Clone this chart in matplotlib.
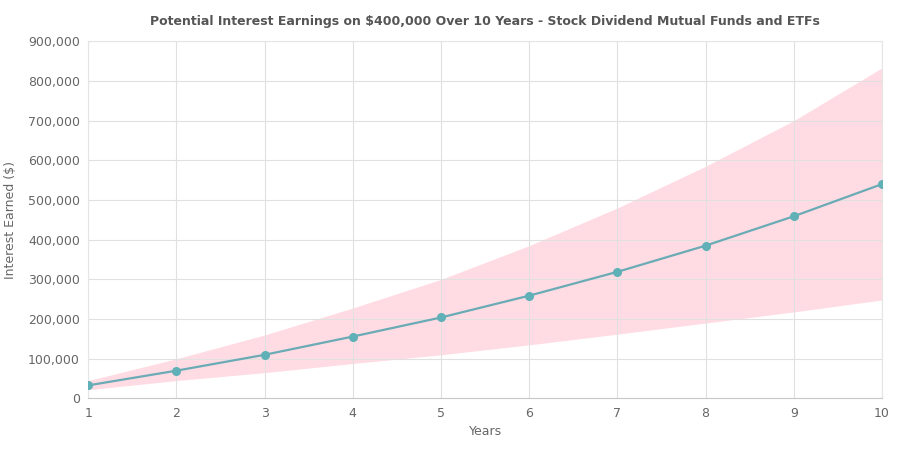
import matplotlib.pyplot as plt
from matplotlib.ticker import FuncFormatter

years = [1, 2, 3, 4, 5, 6, 7, 8, 9, 10]
expected = [33000, 70000, 110000, 156000, 204000, 259000, 319000, 385000, 459000, 540000]
upper = [45000, 100000, 160000, 228000, 300000, 385000, 480000, 585000, 700000, 833000]
lower = [22000, 45000, 65000, 88000, 110000, 135000, 162000, 190000, 218000, 248000]

fig = plt.figure(figsize=(9, 4.58), dpi=100)
ax = fig.add_axes([0.098, 0.13, 0.882, 0.78])

ax.fill_between(years, lower, upper, color="#ff6384", alpha=0.22, linewidth=0, zorder=1)
ax.plot(years, expected, color="#6aabb5", linewidth=1.6, marker="o", markersize=5.5,
        markerfacecolor="#5fb0b7", markeredgecolor="#5fb0b7", zorder=3)

ax.set_xlim(1, 10)
ax.set_ylim(0, 900000)
ax.set_xticks(years)
ax.set_yticks(range(0, 900001, 100000))
ax.yaxis.set_major_formatter(FuncFormatter(lambda v, p: f"{int(v):,}"))
ax.grid(color="#e0e0e0", linewidth=0.8, zorder=0)
for s in ax.spines.values():
    s.set_color("#e5e5e5")
ax.spines["bottom"].set_color("#c8c8c8")
ax.tick_params(colors="#666666", labelsize=9, length=0, pad=6)
ax.set_xlabel("Years", color="#666666", fontsize=9)
ax.set_ylabel("Interest Earned ($)", color="#666666", fontsize=9, labelpad=8)
ax.set_title("Potential Interest Earnings on $400,000 Over 10 Years - Stock Dividend Mutual Funds and ETFs",
             color="#555555", fontsize=9, fontweight="bold", pad=12)

fig.savefig("out.png")
